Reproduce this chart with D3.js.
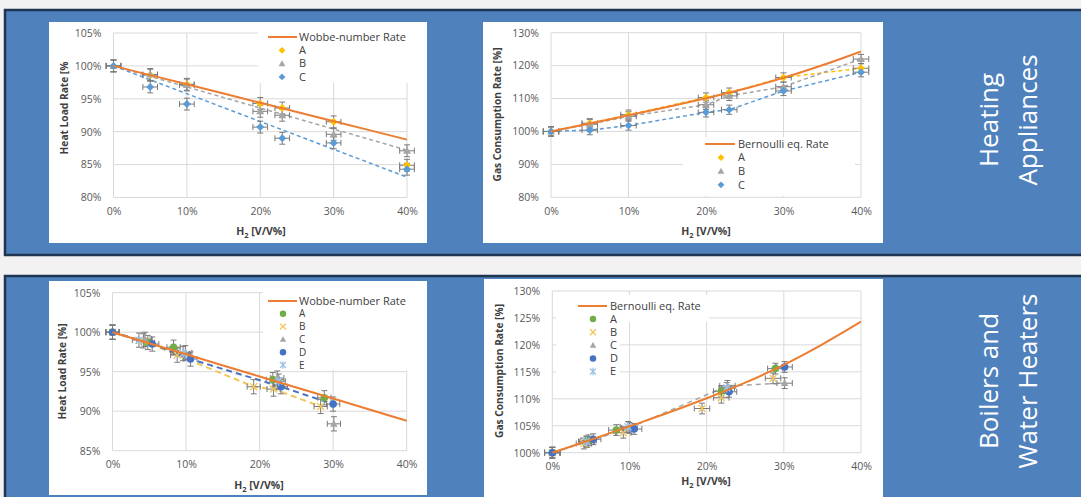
<!DOCTYPE html>
<html><head><meta charset="utf-8">
<script src="https://cdn.jsdelivr.net/npm/d3@7"></script>
<style>
html,body{margin:0;padding:0;background:#f2f2f2;overflow:hidden;}
svg{display:block;}
text{font-family:"Open Sans","Liberation Sans",sans-serif;}
</style></head><body>
<svg id="c" width="1081" height="497"></svg>
<script>
// ---------------- DATA ----------------
const xTicks = [0, 10, 20, 30, 40];
const tlYTicks = [80, 85, 90, 95, 100, 105];
const trYTicks = [80, 90, 100, 110, 120, 130];
const blYTicks = [85, 90, 95, 100, 105];
const brYTicks = [100, 105, 110, 115, 120, 125, 130];

// reference curves
const wobbeH2 = [0, 10, 20, 30, 40];
const wobbeRate = [100, 97.2, 94.4, 91.6, 88.8];
const bernH2 = [0, 5, 10, 15, 20, 25, 30, 35, 40];
const bernRate = [100, 102.4, 104.9, 107.4, 110.1, 113.0, 116.3, 120.1, 124.3];

// Heating appliances - heat load
const tlH2 = [0, 5, 10, 20, 23, 30, 40];
const tlA = [100, 98.6, 97.2, 94.3, 93.6, 91.5, 84.9];
const tlB = [100, 98.7, 97.1, 93.1, 92.5, 89.6, 87.1];
const tlC = [100, 96.8, 94.2, 90.7, 89.0, 88.3, 84.3];
const tlTrendH2 = [0, 40];
const tlTrendB = [100, 87.2];
const tlTrendC = [100, 83.1];
const tlErrX = 1.0, tlErrY = 0.9;

// Heating appliances - gas consumption
const trH2 = [0, 5, 10, 20, 23, 30, 40];
const trA = [100, 102.5, 105.1, 110.3, 111.8, 116.4, 119.2];
const trB = [100, 102.2, 104.6, 108.1, 110.8, 113.6, 122.0];
const trC = [100, 100.4, 101.8, 105.8, 106.6, 112.3, 118.0];
const trErrX = 1.0, trErrY = 1.4;

// Boilers and water heaters - heat load
const blAH2 = [0, 4.8, 8.3, 21.8, 28.8];
const blA = [100, 98.7, 98.1, 94.0, 91.7];
const blBH2 = [0, 4.2, 8.8, 19.2, 21.9, 28.3];
const blB = [100, 98.9, 97.1, 93.1, 92.8, 90.6];
const blCH2 = [0, 4.4, 9.9, 22.4, 30.1];
const blC = [100, 99.1, 97.4, 94.2, 88.4];
const blDH2 = [0, 5.4, 10.6, 22.9, 30.0];
const blD = [100, 98.5, 96.6, 93.1, 90.9];
const blEH2 = [3.6, 9.6, 22.6];
const blE = [99.0, 97.3, 93.8];
const blErrX = 0.9, blErrY = 0.9;

// Boilers and water heaters - gas consumption
const brAH2 = [0, 4.7, 8.3, 21.9, 28.9];
const brA = [100, 102.3, 104.2, 111.4, 115.6];
const brBH2 = [0, 4.1, 9.2, 19.4, 21.9, 28.6];
const brB = [100, 101.7, 103.7, 108.2, 110.2, 113.8];
const brCH2 = [0, 4.5, 10.0, 22.7, 30.1];
const brC = [100, 102.0, 104.6, 112.4, 112.9];
const brDH2 = [0, 5.3, 10.6, 22.9, 30.1];
const brD = [100, 102.5, 104.4, 111.3, 115.9];
const brEH2 = [4.4, 9.8, 22.6];
const brE = [102.1, 104.8, 112.0];
const brErrX = 1.0, brErrY = 1.0;

const seriesNames3 = ["A", "B", "C"];
const seriesNames5 = ["A", "B", "C", "D", "E"];

// ---------------- DRAWING ----------------
const svg = d3.select("#c");
const zip = (xs, ys) => xs.map((v, i) => [v, ys[i]]);

// panels
svg.append("rect").attr("x", 5).attr("y", 10).attr("width", 1100).attr("height", 245)
  .attr("fill", "#4f81bd").attr("stroke", "#1f3552").attr("stroke-width", 2.5);
svg.append("rect").attr("x", 5).attr("y", 276).attr("width", 1100).attr("height", 240)
  .attr("fill", "#4f81bd").attr("stroke", "#1f3552").attr("stroke-width", 2.5);

function sideLabel(lines, cy) {
  const xs = [998, 1036.5];
  lines.forEach((t, i) => {
    svg.append("text").attr("transform", `translate(${xs[i]},${cy}) rotate(-90)`)
      .attr("text-anchor", "middle").attr("fill", "#fff").attr("font-size", 26)
      .text(t);
  });
}
sideLabel(["Heating", "Appliances"], 120);
sideLabel(["Boilers and", "Water Heaters"], 381);

function markerPath(type, s) {
  switch (type) {
    case "diamond": return `M0,${-s}L${s},0L0,${s}L${-s},0Z`;
    case "triangle": return `M0,${-s}L${s},${s * 0.75}L${-s},${s * 0.75}Z`;
    case "circle": return d3.symbol(d3.symbolCircle, Math.PI * s * s)();
    case "x": return `M${-s},${-s}L${s},${s}M${-s},${s}L${s},${-s}`;
    case "star": return `M${-s},${-s}L${s},${s}M${-s},${s}L${s},${-s}M0,${-s * 1.3}L0,${s * 1.3}`;
  }
}
const strokeMarkers = new Set(["x", "star"]);

function drawMarker(g, type, color, s, px, py) {
  const p = g.append("path").attr("d", markerPath(type, s)).attr("transform", `translate(${px},${py})`);
  if (strokeMarkers.has(type)) p.attr("fill", "none").attr("stroke", color).attr("stroke-width", 1.3);
  else p.attr("fill", color);
}

function chart(cfg) {
  const g = svg.append("g");
  g.append("rect").attr("x", cfg.box[0]).attr("y", cfg.box[1]).attr("width", cfg.box[2]).attr("height", cfg.box[3]).attr("fill", "#fff");
  const x = d3.scaleLinear().domain([0, 40]).range([cfg.plot[0], cfg.plot[1]]);
  const y = d3.scaleLinear().domain([cfg.yTicks[0], cfg.yTicks[cfg.yTicks.length - 1]]).range([cfg.plot[3], cfg.plot[2]]);

  // gridlines
  g.selectAll(null).data(cfg.yTicks).join("line")
    .attr("x1", x(0)).attr("x2", x(40)).attr("y1", d => y(d)).attr("y2", d => y(d))
    .attr("stroke", "#d9d9d9").attr("stroke-width", 1);
  g.selectAll(null).data(xTicks).join("line")
    .attr("y1", y.range()[0]).attr("y2", y.range()[1]).attr("x1", d => x(d)).attr("x2", d => x(d))
    .attr("stroke", "#d9d9d9").attr("stroke-width", 1);

  // legend background (hides gridlines)
  cfg.legend.bg.forEach(b => g.append("rect").attr("x", b[0]).attr("y", b[1]).attr("width", b[2]).attr("height", b[3]).attr("fill", "#fff"));

  // axes labels
  const ya = g.append("g").attr("transform", `translate(${x(0)},0)`)
    .call(d3.axisLeft(y).tickValues(cfg.yTicks).tickSize(0).tickPadding(12).tickFormat(d => d + "%"));
  const xa = g.append("g").attr("transform", `translate(0,${y.range()[0]})`)
    .call(d3.axisBottom(x).tickValues(xTicks).tickSize(0).tickPadding(cfg.xPad).tickFormat(d => d + "%"));
  [ya, xa].forEach(a => {
    a.select(".domain").remove();
    a.selectAll("text").attr("font-size", 10.5).attr("fill", "#595959").attr("font-family", '"Open Sans",sans-serif');
  });

  // axis titles
  const xt = g.append("text").attr("x", cfg.xTitle[0]).attr("y", cfg.xTitle[1]).attr("text-anchor", "middle")
    .attr("font-size", 10.5).attr("font-weight", "bold").attr("fill", "#404040");
  xt.append("tspan").text("H");
  xt.append("tspan").attr("font-size", 7.5).attr("dy", 3).text("2");
  xt.append("tspan").attr("dy", -3).text(" [V/V%]");
  g.append("text").attr("transform", `translate(${cfg.yTitle[0]},${cfg.yTitle[1]}) rotate(-90)`)
    .attr("text-anchor", "middle").attr("font-size", 10.2).attr("font-weight", "bold").attr("fill", "#404040")
    .text(cfg.yTitleText);

  const line = d3.line().x(d => x(d[0])).y(d => y(d[1]));

  // dashed lines
  cfg.dashed.forEach(dl => {
    g.append("path").attr("d", line(zip(dl.h, dl.v))).attr("fill", "none")
      .attr("stroke", dl.color).attr("stroke-width", dl.w || 1.5).attr("stroke-dasharray", dl.dash || "4,3");
  });

  // error bars + markers
  const eb = "#7a7a7a";
  cfg.series.forEach(s => {
    zip(s.h, s.v).forEach(([h, v]) => {
      const px = x(h), py = y(v);
      const xl = x(h - cfg.err[0]), xr = x(h + cfg.err[0]);
      const yt = y(v + cfg.err[1]), yb = y(v - cfg.err[1]);
      const p = `M${xl},${py}H${xr}M${xl},${py - 3}V${py + 3}M${xr},${py - 3}V${py + 3}` +
                `M${px},${yt}V${yb}M${px - 3},${yt}H${px + 3}M${px - 3},${yb}H${px + 3}`;
      g.append("path").attr("d", p).attr("fill", "none").attr("stroke", eb).attr("stroke-width", 1);
    });
  });
  cfg.series.forEach(s => {
    zip(s.h, s.v).forEach(([h, v]) => drawMarker(g, s.marker, s.color, s.size, x(h), y(v)));
  });

  // reference curve
  g.append("path").attr("d", d3.line().curve(d3.curveMonotoneX).x(d => x(d[0])).y(d => y(d[1]))(zip(cfg.ref.h, cfg.ref.v)))
    .attr("fill", "none").attr("stroke", "#ed7d31").attr("stroke-width", 2);

  // legend
  const L = cfg.legend;
  const fs = L.fs || 11;
  g.append("line").attr("x1", L.lx[0]).attr("x2", L.lx[1]).attr("y1", L.y0).attr("y2", L.y0)
    .attr("stroke", "#ed7d31").attr("stroke-width", 2);
  g.append("text").attr("x", L.tx).attr("y", L.y0).attr("dy", "0.35em").attr("font-size", 11).attr("fill", "#404040").text(cfg.ref.name);
  cfg.series.forEach((s, i) => {
    const ly = L.y0 + L.step * (i + 1);
    drawMarker(g, s.marker, s.color, s.size * 0.85, L.mx, ly);
    g.append("text").attr("x", L.tx).attr("y", ly).attr("dy", "0.35em").attr("font-size", fs).attr("fill", "#404040").text(s.name);
  });
}

const gold = "#ffc000", gray = "#a5a5a5", lblue = "#5b9bd5", green = "#70ad47", dblue = "#4472c4", pale = "#f2c65a", ice = "#9dc3e6";

chart({
  box: [49, 22, 378, 221], plot: [113.5, 407, 33, 197.5], yTicks: tlYTicks, xPad: 10,
  xTitle: [261, 235], yTitle: [68, 108], yTitleText: "Heat Load Rate [%",
  err: [tlErrX, tlErrY],
  ref: { h: wobbeH2, v: wobbeRate, name: "Wobbe-number Rate" },
  dashed: [
    { h: tlTrendH2, v: tlTrendB, color: gray },
    { h: tlTrendH2, v: tlTrendC, color: lblue }
  ],
  series: [
    { name: seriesNames3[0], h: tlH2, v: tlA, marker: "diamond", color: gold, size: 4 },
    { name: seriesNames3[1], h: tlH2, v: tlB, marker: "triangle", color: gray, size: 4 },
    { name: seriesNames3[2], h: tlH2, v: tlC, marker: "diamond", color: lblue, size: 4 }
  ],
  legend: { bg: [[258, 27, 156, 56]], lx: [268, 297], tx: 299, mx: 282, y0: 37, step: 13.3 }
});

chart({
  box: [483, 22, 400, 221], plot: [551, 861, 32.7, 197.3], yTicks: trYTicks, xPad: 10,
  xTitle: [706, 235], yTitle: [501, 114.5], yTitleText: "Gas Consumption Rate [%]",
  err: [trErrX, trErrY],
  ref: { h: bernH2, v: bernRate, name: "Bernoulli eq. Rate" },
  dashed: [
    { h: trH2, v: trA, color: gold },
    { h: trH2, v: trB, color: gray },
    { h: trH2, v: trC, color: lblue }
  ],
  series: [
    { name: seriesNames3[0], h: trH2, v: trA, marker: "diamond", color: gold, size: 4 },
    { name: seriesNames3[1], h: trH2, v: trB, marker: "triangle", color: gray, size: 4 },
    { name: seriesNames3[2], h: trH2, v: trC, marker: "diamond", color: lblue, size: 4 }
  ],
  legend: { bg: [[683, 137, 172, 59]], lx: [705, 735], tx: 738, mx: 721, y0: 144, step: 13.6 }
});

chart({
  box: [49, 281, 378, 214], plot: [112.5, 406.7, 292.7, 450.7], yTicks: blYTicks, xPad: 10,
  xTitle: [259, 489], yTitle: [66, 371.5], yTitleText: "Heat Load Rate [%]",
  err: [blErrX, blErrY],
  ref: { h: wobbeH2, v: wobbeRate, name: "Wobbe-number Rate" },
  dashed: [
    { h: blBH2, v: blB, color: pale, w: 2, dash: "6,4" },
    { h: blDH2, v: blD, color: dblue, w: 2, dash: "6,4" }
  ],
  series: [
    { name: seriesNames5[0], h: blAH2, v: blA, marker: "circle", color: green, size: 3.8 },
    { name: seriesNames5[1], h: blBH2, v: blB, marker: "x", color: pale, size: 3.5 },
    { name: seriesNames5[2], h: blCH2, v: blC, marker: "triangle", color: gray, size: 3.8 },
    { name: seriesNames5[3], h: blDH2, v: blD, marker: "circle", color: dblue, size: 3.8 },
    { name: seriesNames5[4], h: blEH2, v: blE, marker: "star", color: ice, size: 3.5 }
  ],
  legend: { bg: [[263, 290, 147, 80]], lx: [268, 297], tx: 299, mx: 283, y0: 301, step: 12.8, fs: 10 }
});

chart({
  box: [484, 279, 399, 218], plot: [552.3, 861, 291, 452.7], yTicks: brYTicks, xPad: 10,
  xTitle: [706, 485], yTitle: [503, 371], yTitleText: "Gas Consumption Rate [%]",
  err: [brErrX, brErrY],
  ref: { h: bernH2, v: bernRate, name: "Bernoulli eq. Rate" },
  dashed: [
    { h: brCH2, v: brC, color: gray, w: 1.5, dash: "5,4" }
  ],
  series: [
    { name: seriesNames5[0], h: brAH2, v: brA, marker: "circle", color: green, size: 3.8 },
    { name: seriesNames5[1], h: brBH2, v: brB, marker: "x", color: pale, size: 3.5 },
    { name: seriesNames5[2], h: brCH2, v: brC, marker: "triangle", color: gray, size: 3.8 },
    { name: seriesNames5[3], h: brDH2, v: brD, marker: "circle", color: dblue, size: 3.8 },
    { name: seriesNames5[4], h: brEH2, v: brE, marker: "star", color: ice, size: 3.5 }
  ],
  legend: { bg: [[556, 295, 153, 27], [556, 322, 64, 56]], lx: [578, 607], tx: 610, mx: 593, y0: 306, step: 13.1 }
});
</script>
</body></html>
